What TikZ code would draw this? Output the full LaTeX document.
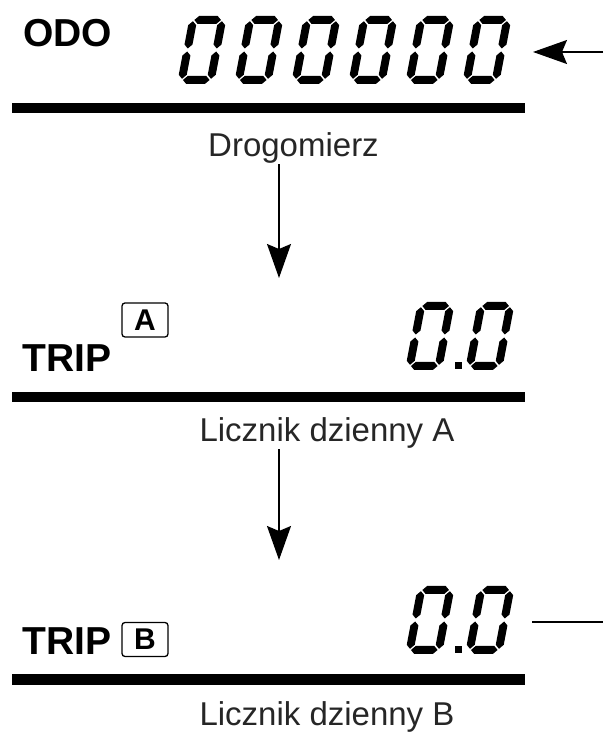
\documentclass[tikz,border=0pt]{standalone}
\usepackage{fontspec}
\setmainfont{Liberation Sans}
\usetikzlibrary{arrows.meta}

\tikzset{
  head/.style={font=\bfseries\fontsize{39}{44}\selectfont, inner sep=0pt, anchor=base west},
  lbl/.style={font=\fontsize{33}{38}\selectfont, text=black!85, inner sep=0pt, anchor=base},
  keybox/.style={draw, rounded corners=3pt, line width=1.3pt, minimum width=46pt, minimum height=34pt, inner sep=0pt, font=\bfseries\fontsize{30}{32}\selectfont},
  bar/.style={line width=10.5pt},
  flow/.style={-{Stealth[length=34pt, width=24pt, inset=5pt]}, line width=1.3pt},
  lcd/.style={xslant=0.19},
  pics/lcdzero/.style={code={
    \fill (5.2,64) -- (9.2,68) -- (27.8,68) -- (31.8,64) -- (27.8,60) -- (9.2,60) -- cycle;
    \fill (5.2,4) -- (9.2,8) -- (27.8,8) -- (31.8,4) -- (27.8,0) -- (9.2,0) -- cycle;
    \fill (4,35.5) -- (8,39.5) -- (8,58.8) -- (4,62.8) -- (0,58.8) -- (0,39.5) -- cycle;
    \fill (4,5.2) -- (8,9.2) -- (8,28.5) -- (4,32.5) -- (0,28.5) -- (0,9.2) -- cycle;
    \fill (33,35.5) -- (37,39.5) -- (37,58.8) -- (33,62.8) -- (29,58.8) -- (29,39.5) -- cycle;
    \fill (33,5.2) -- (37,9.2) -- (37,28.5) -- (33,32.5) -- (29,28.5) -- (29,9.2) -- cycle;
  }},
}

\begin{document}
\begin{tikzpicture}[x=1pt, y=1pt]
    \useasboundingbox (0,0) rectangle (603,733);

    % odometer
    \node[head] (odo) at (23,686) {ODO};
    \pic[lcd] at (177,649) {lcdzero};
    \pic[lcd] at (234,649) {lcdzero};
    \pic[lcd] at (291,649) {lcdzero};
    \pic[lcd] at (348,649) {lcdzero};
    \pic[lcd] at (405,649) {lcdzero};
    \pic[lcd] at (462,649) {lcdzero};
    \coordinate (odoin) at (603,681);
    \coordinate (odotip) at (533,681);
    \draw[flow] (odoin) -- (odotip);
    \draw[bar] (12,625) -- (525,625);
    \node[lbl] (drogo) at (293.5,576) {Drogomierz};
    \coordinate (dropA) at (279,455);
    \draw[flow] (drogo.south -| dropA) -- (dropA);

    % trip A
    \node[head] (tripA) at (22,361) {TRIP};
    \node[keybox] (keyA) at (145,413) {A};
    \pic[lcd] at (405,363) {lcdzero};
    \fill (455,364) rectangle (462,371);
    \pic[lcd] at (465,363) {lcdzero};
    \draw[bar] (12,336) -- (525,336);
    \node[lbl] (licA) at (327,291) {Licznik dzienny A};
    \coordinate (dropB) at (279,173);
    \draw[flow] (licA.south -| dropB) -- (dropB);

    % trip B
    \node[head] (tripB) at (22,78) {TRIP};
    \node[keybox] (keyB) at (145,93.5) {B};
    \pic[lcd] at (405,79) {lcdzero};
    \fill (455,80) rectangle (462,87);
    \pic[lcd] at (465,79) {lcdzero};
    \coordinate (tripBout) at (532,111);
    \coordinate (edgeB) at (603,111);
    \draw[line width=1.3pt] (tripBout) -- (edgeB);
    \draw[bar] (12,53.5) -- (525,53.5);
    \node[lbl] (licB) at (327,8) {Licznik dzienny B};
\end{tikzpicture}
\end{document}
